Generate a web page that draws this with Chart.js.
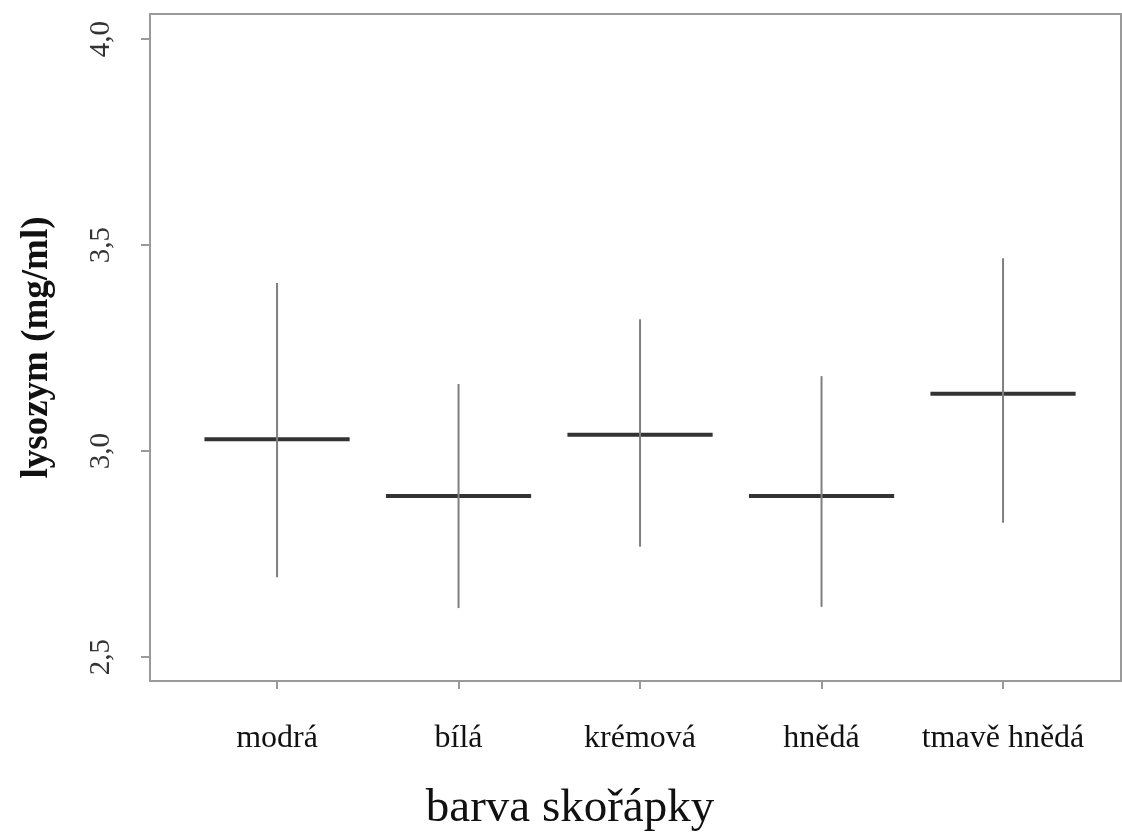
<!DOCTYPE html>
<html>
<head>
<meta charset="utf-8">
<script src="https://cdn.jsdelivr.net/npm/chart.js@4.4.1/dist/chart.umd.min.js"></script>
<style>
  html, body { margin: 0; padding: 0; background: #fff; }
  #wrap { width: 1122px; height: 832px; }
</style>
</head>
<body>
<div id="wrap"><canvas id="c" width="1122" height="832"></canvas></div>
<script>
// Lysozyme concentration by eggshell colour: mean and range per group
const categories = ['modrá', 'bílá', 'krémová', 'hnědá', 'tmavě hnědá'];
const means = [3.029, 2.891, 3.040, 2.891, 3.139];
const upper = [3.408, 3.163, 3.320, 3.182, 3.468];
const lower = [2.694, 2.619, 2.768, 2.622, 2.826];
const yTicks = [2.5, 3.0, 3.5, 4.0];
const yTickLabels = ['2,5', '3,0', '3,5', '4,0'];
const xTitle = 'barva skořápky';
const yTitle = 'lysozym (mg/ml)';

const axisColor = '#9a9a9a';
const serif = '"Liberation Serif", "Times New Roman", serif';
const meanHalfWidth = 0.4;

const datasets = [];
categories.forEach((name, i) => {
  const x = i + 1;
  datasets.push({
    label: name + ' rozsah',
    data: [{ x: x, y: lower[i] }, { x: x, y: upper[i] }],
    borderColor: '#7f7f7f',
    borderWidth: 2,
    pointRadius: 0,
    showLine: true
  });
});
categories.forEach((name, i) => {
  const x = i + 1;
  datasets.push({
    label: name + ' průměr',
    data: [{ x: x - meanHalfWidth, y: means[i] }, { x: x + meanHalfWidth, y: means[i] }],
    borderColor: '#333333',
    borderWidth: 4,
    pointRadius: 0,
    showLine: true
  });
});

// frame around the plot area, rotated y tick labels and the x axis title
const framePlugin = {
  id: 'framePlugin',
  afterDraw(chart) {
    const { ctx, chartArea: a, scales } = chart;
    ctx.save();
    ctx.strokeStyle = axisColor;
    ctx.lineWidth = 2;
    ctx.strokeRect(a.left, a.top, a.right - a.left, a.bottom - a.top);

    const ys = scales.y;
    ctx.font = '29px ' + serif;
    ctx.fillStyle = '#333';
    ctx.textAlign = 'center';
    ctx.textBaseline = 'alphabetic';
    ys.ticks.forEach((t, i) => {
      const py = ys.getPixelForValue(t.value);
      ctx.save();
      ctx.translate(a.left - 41, py);
      ctx.rotate(-Math.PI / 2);
      ctx.fillText(yTickLabels[i], 0, 0);
      ctx.restore();
    });

    ctx.font = '47px ' + serif;
    ctx.fillStyle = '#111';
    ctx.textAlign = 'center';
    ctx.textBaseline = 'alphabetic';
    ctx.fillText(xTitle, 570, 821);
    ctx.restore();
  }
};

new Chart(document.getElementById('c'), {
  type: 'scatter',
  data: { datasets },
  plugins: [framePlugin],
  options: {
    responsive: false,
    animation: false,
    devicePixelRatio: 1,
    layout: { padding: { top: 14, right: 1, left: 0, bottom: 0 } },
    plugins: { legend: { display: false }, tooltip: { enabled: false } },
    scales: {
      x: {
        type: 'linear',
        min: 0.3,
        max: 5.65,
        afterBuildTicks(scale) {
          scale.ticks = categories.map((_, i) => ({ value: i + 1 }));
        },
        afterFit(scale) { scale.height = 151; },
        border: { display: false },
        grid: {
          drawOnChartArea: false,
          drawTicks: true,
          tickLength: 8,
          color: axisColor,
          lineWidth: 2
        },
        ticks: {
          autoSkip: false,
          maxRotation: 0,
          padding: 30,
          color: '#111',
          font: { family: serif, size: 32 },
          callback: (v) => categories[Math.round(v) - 1]
        },
        title: { display: false }
      },
      y: {
        type: 'linear',
        min: 2.442,
        max: 4.061,
        afterBuildTicks(scale) {
          scale.ticks = yTicks.map(v => ({ value: v }));
        },
        afterFit(scale) { scale.width = 150; },
        border: { display: false },
        grid: {
          drawOnChartArea: false,
          drawTicks: true,
          tickLength: 9,
          color: axisColor,
          lineWidth: 2
        },
        ticks: { display: false },
        title: {
          display: true,
          text: yTitle,
          color: '#111',
          font: { family: serif, size: 37, weight: 'bold' },
          padding: { top: 15, bottom: 0 }
        }
      }
    }
  }
});
</script>
</body>
</html>
